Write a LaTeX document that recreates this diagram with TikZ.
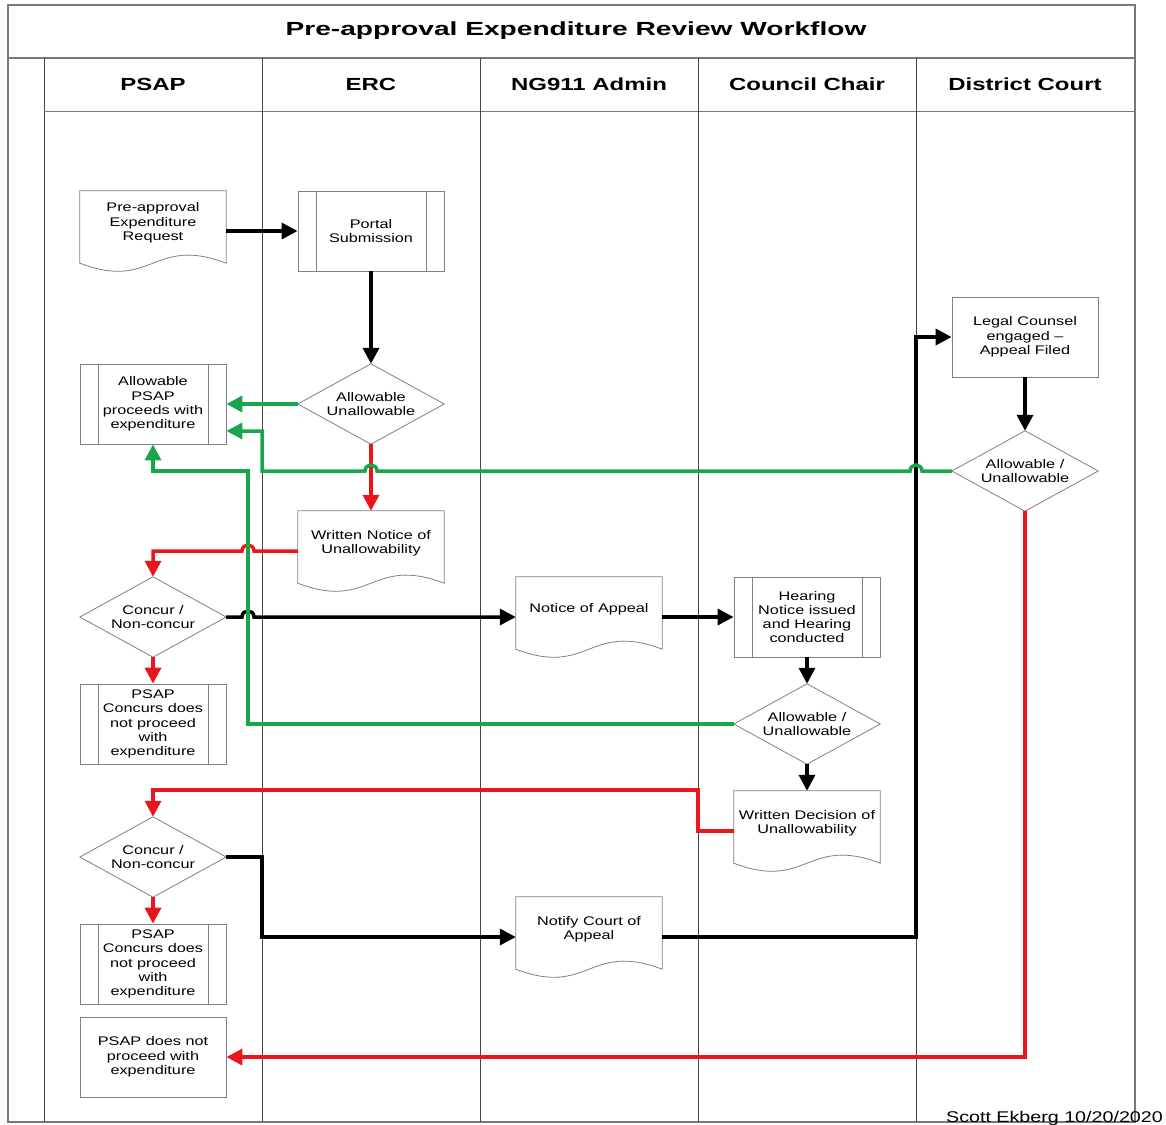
\documentclass[tikz,border=0pt]{standalone}
\usepackage{fontspec}
\setmainfont{Liberation Sans}
\newfontfamily\nodefont[FakeStretch=1.3]{Liberation Sans}
\newfontfamily\headfont[FakeStretch=1.37]{Liberation Sans}
\newfontfamily\titlefont[FakeStretch=1.48]{Liberation Sans}
\newfontfamily\footfont[FakeStretch=1.27]{Liberation Sans}
\usetikzlibrary{arrows.meta,calc}
\definecolor{shapegray}{RGB}{128,128,128}
\definecolor{framegray}{RGB}{120,120,120}
\definecolor{lanegray}{RGB}{70,70,70}
\definecolor{gline}{RGB}{24,166,76}
\definecolor{rline}{RGB}{234,22,28}
\tikzset{
  shapeline/.style={draw=shapegray, line width=0.8pt},
  box/.style={rectangle, minimum width=146pt, minimum height=80pt, inner sep=0pt,
    font=\nodefont\fontsize{12.5}{14.3}\selectfont, align=center},
  plainbox/.style={box, draw=shapegray, line width=0.8pt},
  procbox/.style={plainbox, path picture={
    \draw[shapegray, line width=0.8pt]
      ([xshift=18pt]path picture bounding box.north west) -- ([xshift=18pt]path picture bounding box.south west)
      ([xshift=-18pt]path picture bounding box.north east) -- ([xshift=-18pt]path picture bounding box.south east);}},
  docbox/.style={box},
  decbox/.style={box},
  txt/.style={font=\nodefont\fontsize{12.5}{14.3}\selectfont, align=center, inner sep=0pt},
  head/.style={font=\headfont\bfseries\fontsize{17.5}{20}\selectfont},
  conn/.style={line width=3.5pt, -{Triangle[length=16pt,width=16pt]}},
  plain/.style={line width=3.5pt}
}
\newcommand\docoutline[1]{\draw[shapeline] (#1.north west) -- (#1.north east) -- ([yshift=8pt]#1.south east) .. controls ([yshift=36pt]#1.south) and ([yshift=-20pt]#1.south) .. ([yshift=8pt]#1.south west) -- cycle;}
\newcommand\decoutline[1]{\draw[shapeline] (#1.north) -- (#1.east) -- (#1.south) -- (#1.west) -- cycle;}
\begin{document}
\begin{tikzpicture}[x=1pt,y=-1pt]
\useasboundingbox (0,0) rectangle (1166,1124);
% frame and lanes
\draw[framegray, line width=1.1pt] (8,5) rectangle (1135,1122);
\draw[framegray, line width=1.1pt] (8,58) -- (1135,58);
\draw[lanegray, line width=0.8pt] (44,58) -- (44,1122);
\draw[framegray, line width=1pt] (44,111) -- (1135,111);
\foreach \lx in {262,480,698,916}{\draw[lanegray, line width=0.8pt] (\lx,58) -- (\lx,1122);}
\node[font=\titlefont\bfseries\fontsize{19}{22}\selectfont] (title) at (576,31) {Pre-approval Expenditure Review Workflow};
\node[head] (h1) at (153,84) {PSAP};
\node[head] (h2) at (371,84) {ERC};
\node[head] (h3) at (589,84) {NG911 Admin};
\node[head] (h4) at (807,84) {Council Chair};
\node[head] (h5) at (1025,84) {District Court};
\node[font=\footfont\fontsize{15.5}{18}\selectfont, anchor=base east, inner sep=0pt] (foot) at (1163,1122) {Scott Ekberg 10/20/2020};

% nodes
\node[docbox] (req) at (153,231) {};
\docoutline{req}
\node[txt] (reqT) at ([yshift=8pt]req.center) {Pre-approval\\Expenditure\\Request};
\node[procbox] (portal) at (371,231) {Portal\\Submission};
\node[decbox] (dec1) at (371,404) {Allowable\\Unallowable};
\decoutline{dec1}
\node[procbox] (allow) at (153,404) {Allowable\\PSAP\\proceeds with\\expenditure};
\node[docbox] (notice) at (371,551) {};
\docoutline{notice}
\node[txt] (noticeT) at ([yshift=8pt]notice.center) {Written Notice of\\Unallowability};
\node[decbox] (conc1) at (153,617) {Concur /\\Non-concur};
\decoutline{conc1}
\node[procbox] (pconc1) at (153,724) {PSAP\\Concurs does\\not proceed\\with\\expenditure};
\node[docbox] (appeal) at (589,617) {};
\docoutline{appeal}
\node[txt] (appealT) at ([yshift=8pt]appeal.center) {Notice of Appeal};
\node[procbox] (hearing) at (807,617) {Hearing\\Notice issued\\and Hearing\\conducted};
\node[decbox] (dec3) at (807,724) {Allowable /\\Unallowable};
\decoutline{dec3}
\node[docbox] (decision) at (807,831) {};
\docoutline{decision}
\node[txt] (decisionT) at ([yshift=8pt]decision.center) {Written Decision of\\Unallowability};
\node[decbox] (conc2) at (153,857) {Concur /\\Non-concur};
\decoutline{conc2}
\node[procbox] (pconc2) at (153,964) {PSAP\\Concurs does\\not proceed\\with\\expenditure};
\node[docbox] (notify) at (589,937) {};
\docoutline{notify}
\node[txt] (notifyT) at ([yshift=8pt]notify.center) {Notify Court of\\Appeal};
\node[plainbox] (legal) at (1025,337) {Legal Counsel\\engaged –\\Appeal Filed};
\node[decbox] (dec4) at (1025,471) {Allowable /\\Unallowable};
\decoutline{dec4}
\node[plainbox] (pnot) at (153,1057) {PSAP does not\\proceed with\\expenditure};

% connectors
\draw[conn] (req.east) -- (portal.west);
\draw[conn] (portal.south) -- (dec1.north);
\draw[conn, gline] (dec1.west) -- (allow.east);
\draw[conn, rline] (dec1.south) -- (notice.north);
\draw[conn, rline] (notice.west) -- (254,551) .. controls (254,543) and (242,543) .. (242,551) -- (153,551) -- (conc1.north);
\draw[conn] (conc1.east) -- (242,617) .. controls (242,609) and (254,609) .. (254,617) -- (appeal.west);
\draw[conn, rline] (conc1.south) -- (pconc1.north);
\draw[conn] (appeal.east) -- (hearing.west);
\draw[conn] (hearing.south) -- (dec3.north);
\draw[conn, gline] (dec3.west) -- (248,724) -- (248,471) -- (153,471) -- (allow.south);
\draw[conn] (dec3.south) -- (decision.north);
\draw[conn, rline] (decision.west) -- (698,831) -- (698,790) -- (153,790) -- (conc2.north);
\draw[conn, rline] (conc2.south) -- (pconc2.north);
\draw[conn] (conc2.east) -- (262,857) -- (262,937) -- (notify.west);
\draw[conn] (notify.east) -- (916,937) -- (916,337) -- (legal.west);
\draw[conn] (legal.south) -- (dec4.north);
\draw[conn, gline] (dec4.west) -- (922,471) .. controls (922,463) and (910,463) .. (910,471) -- (377,471) .. controls (377,463) and (365,463) .. (365,471) -- (262,471) -- (262,431) -- ([yshift=-27pt]allow.east);
\draw[conn, rline] (dec4.south) -- (dec4.south |- pnot.east) -- (pnot.east);
\end{tikzpicture}
\end{document}
